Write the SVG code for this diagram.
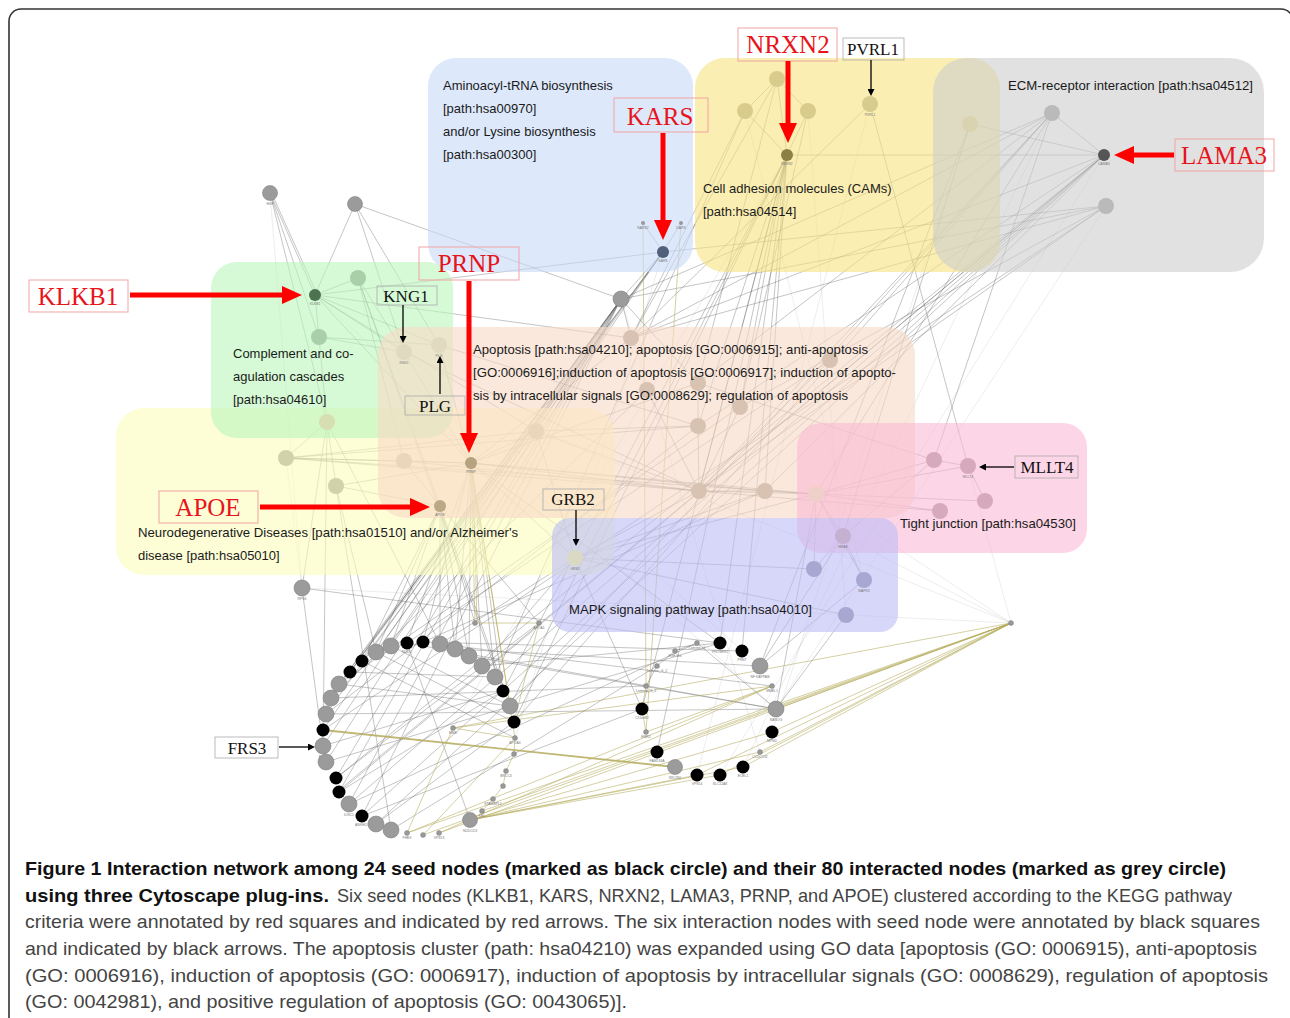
<svg xmlns="http://www.w3.org/2000/svg" width="1290" height="1018" viewBox="0 0 1290 1018">
<defs>
<style>
.e{fill:none;stroke:#5a5a5a;stroke-width:.7;stroke-opacity:.5}
.o{fill:none;stroke:#b4aa5a;stroke-width:.8;stroke-opacity:.7}
.ot{fill:none;stroke:#b4aa5a;stroke-width:1.8;stroke-opacity:.85}
.f{fill:none;stroke:#aaa;stroke-width:.6;stroke-opacity:.35}
.cl{fill-opacity:.6}
.g{fill:#9b9b9b;stroke:#808080;stroke-width:.6}
.b{fill:#000}
.s{fill:#999;stroke:#777;stroke-width:.4}
.lb{font-family:"Liberation Sans",Arial,sans-serif;font-size:3.4px;fill:#777;text-anchor:middle}
.ct{font-family:"Liberation Sans",Arial,sans-serif;font-size:13px;fill:#1a1a1a}
.rl{font-family:"Liberation Serif","Times New Roman",serif;font-size:25px;fill:#e8141b;text-anchor:middle}
.rb{fill:none;stroke:#f2a3a3;stroke-width:1}
.bl{font-family:"Liberation Serif","Times New Roman",serif;font-size:17px;fill:#111;text-anchor:middle}
.bb{fill:none;stroke:#aaa;stroke-width:.8}
.ra{stroke:#f00;stroke-width:5;fill:none}
.ba{stroke:#000;stroke-width:1.3;fill:none}
.cap{font-family:"Liberation Sans",Arial,sans-serif;font-size:19px;fill:#444}
.capb{font-family:"Liberation Sans",Arial,sans-serif;font-size:19px;font-weight:bold;fill:#111}
</style>
<marker id="rh" markerUnits="userSpaceOnUse" markerWidth="20" markerHeight="18" viewBox="0 0 20 18" refX="0" refY="9" orient="auto"><path d="M0,0L20,9L0,18Z" fill="#f00"/></marker>
<marker id="bh" markerUnits="userSpaceOnUse" markerWidth="7" markerHeight="7" viewBox="0 0 7 7" refX="0" refY="3.5" orient="auto"><path d="M0,0L7,3.5L0,7Z" fill="#000"/></marker>
</defs>
<rect x="0" y="0" width="1290" height="1018" fill="#fff"/>
<rect x="9" y="9" width="1284" height="1040" rx="12" fill="none" stroke="#333" stroke-width="1.6"/>

<g id="connectors">
<path class="f" d="M1011 623L816 494M1011 623L968 466M1011 623L843 536M1106 206L776 709M970 124L772 732M1052 113L743 767M870 104L697 775M1104 155L720 775M787 155L453 728M663 252L515 738M621 299L760 752M536 431L1011 623M302 588L1011 623M270 193L302 588M286 458L302 588M404 352L760 666M315 295L776 709M745 111L864 580M808 111L846 615"/>
<path class="e" d="M270 193L315 295M272 194L317 294M270 193L319 337M270 193L327 422M355 204L315 295M355 204L404 352M355 204L621 299M355 204L439 345M315 295L358 278M315 295L319 337M315 295L404 352M315 295L439 345M315 295L536 431M315 295L471 463M315 295L631 338M315 295L663 252M358 278L404 352M358 278L440 506M358 278L404 461M358 278L503 691M319 337L404 352M319 337L439 345M319 337L327 422M404 352L471 463M404 352L699 491M439 345L698 426M439 345L471 463M327 422L286 458M327 422L336 486M327 422L323 746M327 422L440 644M286 458L404 461M286 458L471 463M286 458L536 431M286 458L698 426M286 458L699 491M286 458L816 494M336 486L440 506M336 486L471 463M336 486L376 652M336 486L391 830M404 461L471 463M404 461L440 506M404 461L699 491"/>
<path class="e" d="M471 463L536 431M471 463L631 338M471 463L699 491M471 463L765 491M471 463L816 494M471 463L575 558M471 463L407 643M471 463L423 642M471 463L455 649M471 463L469 656M471 463L482 666M471 463L495 677M471 463L503 691M471 463L720 643M471 463L698 383M440 506L391 646M440 506L376 652M440 506L440 644M440 506L455 649M440 506L362 661M440 506L469 656M440 506L475 623M440 506L539 623M440 506L510 706M536 431L699 491M536 431L698 426M536 431L575 558"/>
<path class="e" d="M663 252L643 223M663 252L681 223M663 252L621 299M663 252L376 652M663 252L391 646M663 252L362 661M663 252L350 672M663 252L339 684M663 252L1106 206M621 299L631 338M621 299L698 383M621 299L1052 113M621 299L1106 206M621 299L350 672M621 299L339 684M621 299L331 698M621 299L326 714M621 299L323 730M621 299L323 746M621 299L326 762M621 299L336 778M621 299L339 792M621 299L349 804M621 299L362 816"/>
<path class="e" d="M787 155L777 79M787 155L745 111M787 155L808 111M777 79L745 111M777 79L808 111M787 155L1104 155M787 155L699 491M787 155L765 491M787 155L698 426M787 155L740 407M787 155L720 643M787 155L742 651M787 155L657 752M787 155L642 709M787 155L503 691M787 155L510 706M787 155L514 722M777 79L698 383M777 79L631 338M745 111L631 338M808 111L740 407M745 111L495 677M870 104L968 466M870 104L631 338M970 124L1104 155M970 124L843 536M970 124L760 666"/>
<path class="e" d="M1052 113L1104 155M1052 113L631 338M1052 113L698 383M1052 113L699 491M1052 113L816 494M1052 113L934 460M1052 113L514 722M1052 113L510 706M1104 155L631 338M1104 155L698 426M1104 155L336 778M1104 155L339 792M1104 155L349 804M1104 155L362 816M1104 155L376 824M1104 155L765 491M1102 157L338 791M1106 206L740 407M1106 206L699 491M1106 206L323 730M1106 206L631 338"/>
<path class="e" d="M934 460L968 466M934 460L816 494M934 460L843 536M934 460L698 383M968 466L985 501M968 466L816 494M940 511L816 494M940 511L699 491M816 494L843 536M816 494L765 491M816 494L699 491M816 494L985 501M816 494L575 558M816 494L814 569M816 494L864 580M816 494L776 709M843 536L814 569M843 536L864 580M843 536L760 666M846 615L776 709M846 615L575 558M814 569L575 558M864 580L760 666M575 558L699 491M575 558L765 491M575 558L440 644M575 558L482 666M575 558L642 709M699 491L765 491M699 491L698 426M699 491L740 407M698 383L698 426M647 390L699 491M647 390L331 698M740 407L339 684M830 360L699 491M830 360L407 643M765 491L423 642M698 426L326 714M302 588L720 643M302 588L323 746M302 588L327 422"/>
<path class="e" d="M339 792L503 691M336 778L539 623M326 762L720 643M349 804L697 643M362 816L642 709M376 824L514 722M391 830L657 666M470 820L407 643M407 643L776 709M423 642L742 651M455 649L760 666M440 644L772 686M331 698L646 686M326 714L776 709M323 746L503 691M362 661L515 738M350 672L495 677M339 684L510 706M376 652L514 722M391 646L510 706M469 656L776 709M482 666L720 643M697 643L776 709M675 651L657 666M657 666L646 686M697 643L675 651"/>
<path class="o" d="M1011 623L407 833M1011 623L423 835M1011 623L439 833M1011 623L482 811M1011 623L776 709M1011 623L772 732M1011 623L743 767M1011 623L697 775M1011 623L720 775M1011 623L760 752M1011 623L453 728M772 686L407 833M772 686L439 833M772 686L453 728M772 686L646 732M470 820L697 775M470 820L720 775M470 820L743 767M470 820L772 732M470 820L760 752M453 728L515 738M515 738L514 754M514 754L506 771M506 771L503 786M503 786L493 799M493 799L482 811M453 728L407 833M515 738L423 835M471 463L475 623M471 463L510 706M471 463L515 738M473 463L477 623M646 686L643 223M646 732L681 223M642 709L646 732M646 686L642 709M539 623L514 722M475 623L539 623"/>
<path class="ot" d="M323 730L675 767"/>
</g>

<g id="clusters">
<rect class="cl" x="116" y="408" width="499" height="167" rx="28" fill="#fcfcbb"/>
<rect class="cl" x="211" y="262" width="242" height="176" rx="26" fill="#bbf7bb"/>
<rect class="cl" x="378" y="327" width="537" height="191" rx="28" fill="#f8d9c5"/>
<rect class="cl" x="797" y="423" width="290" height="130" rx="24" fill="#fab9d5"/>
<rect class="cl" x="552" y="518" width="346" height="114" rx="18" fill="#bcbcf7"/>
<rect class="cl" x="428" y="58" width="265" height="214" rx="28" fill="#c6daf8"/>
<rect class="cl" x="695" y="58" width="305" height="214" rx="30" fill="#f7e37f"/>
<rect class="cl" x="933" y="58" width="331" height="214" rx="34" fill="#cdcdcd"/>
</g>

<g id="nodes">
<g id="n-HGF"><circle cx="270" cy="193" r="7.5" class="g"/><text class="lb" x="270" y="205">HGF</text></g>
<g id="n-u1"><circle cx="355" cy="204" r="7.5" class="g"/></g>
<g id="n-KLKB1"><circle cx="315" cy="295" r="6" fill="#4c7250"/><text class="lb" x="315" y="305">KLKB1</text></g>
<g id="n-u2"><circle cx="358" cy="278" r="8" fill="#a9cfa9"/></g>
<g id="n-u3"><circle cx="319" cy="337" r="8" fill="#a9cfa9"/></g>
<g id="n-KNG1"><circle cx="404" cy="352" r="8" fill="#e2dac0"/><text class="lb" x="404" y="364">KNG1</text></g>
<g id="n-PLG"><circle cx="439" cy="345" r="8" fill="#e2dac0"/><text class="lb" x="439" y="357">PLG</text></g>
<g id="n-u4"><circle cx="327" cy="422" r="8" fill="#d6deb2"/></g>
<g id="n-u5"><circle cx="286" cy="458" r="8" fill="#d2d2aa"/></g>
<g id="n-u6"><circle cx="336" cy="486" r="8" fill="#d2d2aa"/></g>
<g id="n-u7"><circle cx="404" cy="461" r="8" fill="#ead6ba"/></g>
<g id="n-PRNP"><circle cx="471" cy="463" r="6" fill="#b5a27e"/><text class="lb" x="471" y="473">PRNP</text></g>
<g id="n-APOE"><circle cx="440" cy="506" r="6" fill="#bca886"/><text class="lb" x="440" y="516">APOE</text></g>
<g id="n-u8"><circle cx="536" cy="431" r="8" fill="#ead6ba"/></g>
<g id="n-GRB2"><circle cx="575" cy="558" r="8" fill="#dadac4"/><text class="lb" x="575" y="570">GRB2</text></g>
<g id="n-u9"><circle cx="621" cy="299" r="8" class="g" fill="#8e8e8e"/></g>
<g id="n-KARS"><circle cx="663" cy="252" r="6" fill="#50607a"/><text class="lb" x="663" y="262">KARS</text></g>
<g id="n-NARS2"><circle cx="643" cy="223" r="2" fill="#999"/><text class="lb" x="643" y="229">NARS2</text></g>
<g id="n-DARS"><circle cx="681" cy="223" r="2" fill="#999"/><text class="lb" x="681" y="229">DARS</text></g>
<g id="n-NRXN2"><circle cx="787" cy="155" r="6" fill="#8d8044"/><text class="lb" x="787" y="165">NRXN2</text></g>
<g id="n-u10"><circle cx="777" cy="79" r="8" fill="#d8cb8c"/></g>
<g id="n-u11"><circle cx="745" cy="111" r="8" fill="#d8cb8c"/></g>
<g id="n-u12"><circle cx="808" cy="111" r="8" fill="#d8cb8c"/></g>
<g id="n-PVRL1"><circle cx="870" cy="104" r="8" fill="#d8cb8c"/><text class="lb" x="870" y="116">PVRL1</text></g>
<g id="n-u13"><circle cx="970" cy="124" r="8" fill="#d9d3b2"/></g>
<g id="n-u14"><circle cx="1052" cy="113" r="8" fill="#bababa"/></g>
<g id="n-LAMA3"><circle cx="1104" cy="155" r="6" fill="#555"/><text class="lb" x="1104" y="165">LAMA3</text></g>
<g id="n-u15"><circle cx="1106" cy="206" r="8" fill="#bababa"/></g>
<g id="n-a1"><circle cx="631" cy="338" r="8" fill="#d8c2b2"/></g>
<g id="n-a2"><circle cx="647" cy="390" r="8" fill="#d8c2b2"/></g>
<g id="n-a3"><circle cx="698" cy="383" r="8" fill="#d8c2b2"/></g>
<g id="n-a4"><circle cx="740" cy="407" r="8" fill="#d8c2b2"/></g>
<g id="n-a5"><circle cx="698" cy="426" r="8" fill="#d8c2b2"/></g>
<g id="n-a6"><circle cx="699" cy="491" r="8" fill="#d8c2b2"/></g>
<g id="n-a7"><circle cx="765" cy="491" r="8" fill="#d8c2b2"/></g>
<g id="n-a8"><circle cx="830" cy="360" r="8" fill="#d8c2b2"/></g>
<g id="n-a9"><circle cx="816" cy="494" r="8" fill="#efd0c8"/></g>
<g id="n-p1"><circle cx="934" cy="460" r="8" fill="#d6a9bc"/></g>
<g id="n-MLLT4"><circle cx="968" cy="466" r="8" fill="#d6a9bc"/><text class="lb" x="968" y="478">MLLT4</text></g>
<g id="n-p2"><circle cx="985" cy="501" r="8" fill="#d6a9bc"/></g>
<g id="n-p3"><circle cx="940" cy="511" r="8" fill="#d6a9bc"/></g>
<g id="n-HRAS"><circle cx="843" cy="536" r="8" fill="#c6b0d2"/><text class="lb" x="843" y="548">HRAS</text></g>
<g id="n-m1"><circle cx="814" cy="569" r="8" fill="#a7a7d2"/></g>
<g id="n-MAPK3"><circle cx="864" cy="580" r="8" fill="#a7a7d2"/><text class="lb" x="864" y="592">MAPK3</text></g>
<g id="n-m3"><circle cx="846" cy="615" r="8" fill="#a7a7d2"/></g>
<g id="n-sk"><circle cx="1011" cy="623" r="2.5" class="s"/></g>
<g id="n-RPS6"><circle cx="302" cy="588" r="8" class="g"/><text class="lb" x="302" y="600">RPS6</text></g>

<g id="n-r1"><circle cx="391" cy="646" r="8" class="g"/></g>
<g id="n-r2"><circle cx="376" cy="652" r="8" class="g"/></g>
<g id="n-NUDC"><circle cx="407" cy="643" r="6.5" class="b"/><text class="lb" x="407" y="653">NUDC</text></g>
<g id="n-r4"><circle cx="423" cy="642" r="6.5" class="b"/></g>
<g id="n-r5"><circle cx="440" cy="644" r="8" class="g"/></g>
<g id="n-r6"><circle cx="455" cy="649" r="8" class="g"/></g>
<g id="n-r7"><circle cx="469" cy="656" r="8" class="g"/></g>
<g id="n-r8"><circle cx="482" cy="666" r="8" class="g"/></g>
<g id="n-r9"><circle cx="495" cy="677" r="8" class="g"/></g>
<g id="n-r10"><circle cx="503" cy="691" r="6.5" class="b"/></g>
<g id="n-r11"><circle cx="510" cy="706" r="8" class="g"/></g>
<g id="n-r12"><circle cx="514" cy="722" r="6.5" class="b"/></g>
<g id="n-r13"><circle cx="362" cy="661" r="6.5" class="b"/></g>
<g id="n-r14"><circle cx="350" cy="672" r="6.5" class="b"/></g>
<g id="n-r15"><circle cx="339" cy="684" r="8" class="g"/></g>
<g id="n-r16"><circle cx="331" cy="698" r="8" class="g"/></g>
<g id="n-r17"><circle cx="326" cy="714" r="8" class="g"/></g>
<g id="n-r18"><circle cx="323" cy="730" r="6.5" class="b"/></g>
<g id="n-FRS3"><circle cx="323" cy="746" r="8" class="g"/><text class="lb" x="323" y="758">FRS3</text></g>
<g id="n-r20"><circle cx="326" cy="762" r="8" class="g"/></g>
<g id="n-r21"><circle cx="336" cy="778" r="6.5" class="b"/></g>
<g id="n-r22"><circle cx="339" cy="792" r="6.5" class="b"/></g>
<g id="n-DISC1"><circle cx="349" cy="804" r="8" class="g"/><text class="lb" x="349" y="816">DISC1</text></g>
<g id="n-ANKHD1"><circle cx="362" cy="816" r="6.5" class="b"/><text class="lb" x="362" y="826">ANKHD1</text></g>
<g id="n-r25"><circle cx="376" cy="824" r="8" class="g"/></g>
<g id="n-r26"><circle cx="391" cy="830" r="8" class="g"/></g>
<g id="n-NUDCD3"><circle cx="470" cy="820" r="7.5" class="g"/><text class="lb" x="470" y="832">NUDCD3</text></g>
<g id="n-s1"><circle cx="475" cy="623" r="2.5" class="s"/></g>
<g id="n-APOA1"><circle cx="539" cy="623" r="2.5" class="s"/><text class="lb" x="539" y="629">APOA1</text></g>
<g id="n-MME"><circle cx="453" cy="728" r="2.5" class="s"/><text class="lb" x="453" y="734">MME</text></g>
<g id="n-APOA4"><circle cx="515" cy="738" r="2.5" class="s"/><text class="lb" x="515" y="744">APOA4</text></g>
<g id="n-s5"><circle cx="514" cy="754" r="2.5" class="s"/></g>
<g id="n-BRCC3"><circle cx="506" cy="771" r="2.5" class="s"/><text class="lb" x="506" y="777">BRCC3</text></g>
<g id="n-s7"><circle cx="503" cy="786" r="2.5" class="s"/></g>
<g id="n-STAMBPL1"><circle cx="493" cy="799" r="2.5" class="s"/><text class="lb" x="493" y="805">STAMBPL1</text></g>
<g id="n-KEL"><circle cx="482" cy="811" r="2.5" class="s"/><text class="lb" x="482" y="817">KEL</text></g>
<g id="n-VPS53"><circle cx="439" cy="833" r="2.5" class="s"/><text class="lb" x="439" y="839">VPS53</text></g>
<g id="n-s11"><circle cx="423" cy="835" r="2.5" class="s"/></g>
<g id="n-PHEX"><circle cx="407" cy="833" r="2.5" class="s"/><text class="lb" x="407" y="839">PHEX</text></g>

<g id="n-PROSER1"><circle cx="720" cy="643" r="6.5" class="b"/><text class="lb" x="720" y="653">PROSER1</text></g>
<g id="n-PRNT"><circle cx="742" cy="651" r="6.5" class="b"/><text class="lb" x="742" y="661">PRNT</text></g>
<g id="n-NFKAPPAB"><circle cx="760" cy="666" r="8" class="g"/><text class="lb" x="760" y="678">NF KAPPAB</text></g>
<g id="n-MMEL1"><circle cx="772" cy="686" r="2.5" class="s"/><text class="lb" x="772" y="692">MMEL1</text></g>
<g id="n-NANOG"><circle cx="776" cy="709" r="8" class="g"/><text class="lb" x="776" y="721">NANOG</text></g>
<g id="n-MPND"><circle cx="772" cy="732" r="6.5" class="b"/><text class="lb" x="772" y="742">MPND</text></g>
<g id="n-CCDC132"><circle cx="760" cy="752" r="2.5" class="s"/><text class="lb" x="760" y="758">CCDC132</text></g>
<g id="n-ECEL1"><circle cx="743" cy="767" r="6.5" class="b"/><text class="lb" x="743" y="777">ECEL1</text></g>
<g id="n-SLC12A8"><circle cx="720" cy="775" r="6.5" class="b"/><text class="lb" x="720" y="785">SLC12A8</text></g>
<g id="n-VPS54"><circle cx="697" cy="775" r="6.5" class="b"/><text class="lb" x="697" y="785">VPS54</text></g>
<g id="n-SRCIN1"><circle cx="675" cy="767" r="7.5" class="g"/><text class="lb" x="675" y="779">SRCIN1</text></g>
<g id="n-FAM134A"><circle cx="657" cy="752" r="6.5" class="b"/><text class="lb" x="657" y="762">FAM134A</text></g>
<g id="n-EMR2"><circle cx="646" cy="732" r="2.5" class="s"/><text class="lb" x="646" y="738">EMR2</text></g>
<g id="n-C11orf82"><circle cx="642" cy="709" r="6.5" class="b"/><text class="lb" x="642" y="719">C11orf82</text></g>
<g id="n-LamininG1"><circle cx="646" cy="686" r="2.5" class="s"/><text class="lb" x="646" y="692">Laminin_G_1</text></g>
<g id="n-LamininG2"><circle cx="657" cy="666" r="2.5" class="s"/><text class="lb" x="657" y="672">Laminin_G_2</text></g>
<g id="n-EGFlike"><circle cx="675" cy="651" r="2.5" class="s"/><text class="lb" x="675" y="657">EGF-like</text></g>
<g id="n-LamininG"><circle cx="697" cy="643" r="2.5" class="s"/><text class="lb" x="697" y="649">Laminin_G</text></g>
</g>

<g id="cluster-labels">
<text class="ct" x="443" y="90">Aminoacyl-tRNA biosynthesis</text>
<text class="ct" x="443" y="113">[path:hsa00970]</text>
<text class="ct" x="443" y="136">and/or Lysine biosynthesis</text>
<text class="ct" x="443" y="159">[path:hsa00300]</text>
<text class="ct" x="703" y="193">Cell adhesion molecules (CAMs)</text>
<text class="ct" x="703" y="216">[path:hsa04514]</text>
<text class="ct" x="1008" y="90" textLength="245" lengthAdjust="spacingAndGlyphs">ECM-receptor interaction [path:hsa04512]</text>
<text class="ct" x="233" y="358">Complement and co-</text>
<text class="ct" x="233" y="381">agulation cascades</text>
<text class="ct" x="233" y="404">[path:hsa04610]</text>
<text class="ct" x="473" y="354" textLength="395" lengthAdjust="spacingAndGlyphs">Apoptosis [path:hsa04210]; apoptosis [GO:0006915]; anti-apoptosis</text>
<text class="ct" x="473" y="377" textLength="423" lengthAdjust="spacingAndGlyphs">[GO:0006916];induction of apoptosis [GO:0006917]; induction of apopto-</text>
<text class="ct" x="473" y="400" textLength="375" lengthAdjust="spacingAndGlyphs">sis by intracellular signals [GO:0008629]; regulation of apoptosis</text>
<text class="ct" x="138" y="537" textLength="380" lengthAdjust="spacingAndGlyphs">Neurodegenerative Diseases [path:hsa01510] and/or Alzheimer's</text>
<text class="ct" x="138" y="560">disease [path:hsa05010]</text>
<text class="ct" x="900" y="528" textLength="176" lengthAdjust="spacingAndGlyphs">Tight junction [path:hsa04530]</text>
<text class="ct" x="569" y="614" textLength="243" lengthAdjust="spacingAndGlyphs">MAPK signaling pathway [path:hsa04010]</text>
</g>

<g id="annotations">
<rect class="rb" x="738" y="28" width="99" height="33"/><text class="rl" x="788" y="53">NRXN2</text>
<rect class="rb" x="614" y="98" width="94" height="34"/><text class="rl" x="660" y="125">KARS</text>
<rect class="rb" x="1175" y="139" width="99" height="32"/><text class="rl" x="1224" y="164">LAMA3</text>
<rect class="rb" x="29" y="280" width="99" height="32"/><text class="rl" x="78" y="305">KLKB1</text>
<rect class="rb" x="419" y="247" width="100" height="33"/><text class="rl" x="469" y="272">PRNP</text>
<rect class="rb" x="159" y="491" width="99" height="32"/><text class="rl" x="208" y="516">APOE</text>
<path class="ra" marker-end="url(#rh)" d="M788 61V123"/>
<path class="ra" marker-end="url(#rh)" d="M663 133V220"/>
<path class="ra" marker-end="url(#rh)" d="M1174 155H1134"/>
<path class="ra" marker-end="url(#rh)" d="M130 295H282"/>
<path class="ra" marker-end="url(#rh)" d="M469 281V433"/>
<path class="ra" marker-end="url(#rh)" d="M260 507H410"/>

<rect class="bb" x="843" y="38" width="61" height="22"/><text class="bl" x="873" y="55">PVRL1</text>
<rect class="bb" x="377" y="286" width="60" height="19"/><text class="bl" x="406" y="302">KNG1</text>
<rect class="bb" x="405" y="396" width="60" height="19"/><text class="bl" x="435" y="412">PLG</text>
<rect class="bb" x="543" y="489" width="61" height="21"/><text class="bl" x="573" y="505">GRB2</text>
<rect class="bb" x="1015" y="456" width="63" height="22"/><text class="bl" x="1047" y="473">MLLT4</text>
<rect class="bb" x="215" y="737" width="63" height="21"/><text class="bl" x="247" y="754">FRS3</text>
<path class="ba" marker-end="url(#bh)" d="M871 60V89"/>
<path class="ba" marker-end="url(#bh)" d="M403 305V336"/>
<path class="ba" marker-end="url(#bh)" d="M440 394V363"/>
<path class="ba" marker-end="url(#bh)" d="M576 510V539"/>
<path class="ba" marker-end="url(#bh)" d="M1014 467H986"/>
<path class="ba" marker-end="url(#bh)" d="M279 747H308"/>
</g>

<g id="caption">
<text class="capb" x="25" y="875" textLength="1201" lengthAdjust="spacingAndGlyphs">Figure 1 Interaction network among 24 seed nodes (marked as black circle) and their 80 interacted nodes (marked as grey circle)</text>
<text class="capb" x="25" y="902" textLength="304" lengthAdjust="spacingAndGlyphs">using three Cytoscape plug-ins.</text>
<text class="cap" x="337" y="902" textLength="895" lengthAdjust="spacingAndGlyphs">Six seed nodes (KLKB1, KARS, NRXN2, LAMA3, PRNP, and APOE) clustered according to the KEGG pathway</text>
<text class="cap" x="25" y="928" textLength="1235" lengthAdjust="spacingAndGlyphs">criteria were annotated by red squares and indicated by red arrows. The six interaction nodes with seed node were annotated by black squares</text>
<text class="cap" x="25" y="955" textLength="1232" lengthAdjust="spacingAndGlyphs">and indicated by black arrows. The apoptosis cluster (path: hsa04210) was expanded using GO data [apoptosis (GO: 0006915), anti-apoptosis</text>
<text class="cap" x="25" y="982" textLength="1243" lengthAdjust="spacingAndGlyphs">(GO: 0006916), induction of apoptosis (GO: 0006917), induction of apoptosis by intracellular signals (GO: 0008629), regulation of apoptosis</text>
<text class="cap" x="25" y="1008" textLength="602" lengthAdjust="spacingAndGlyphs">(GO: 0042981), and positive regulation of apoptosis (GO: 0043065)].</text>
</g>
</svg>
